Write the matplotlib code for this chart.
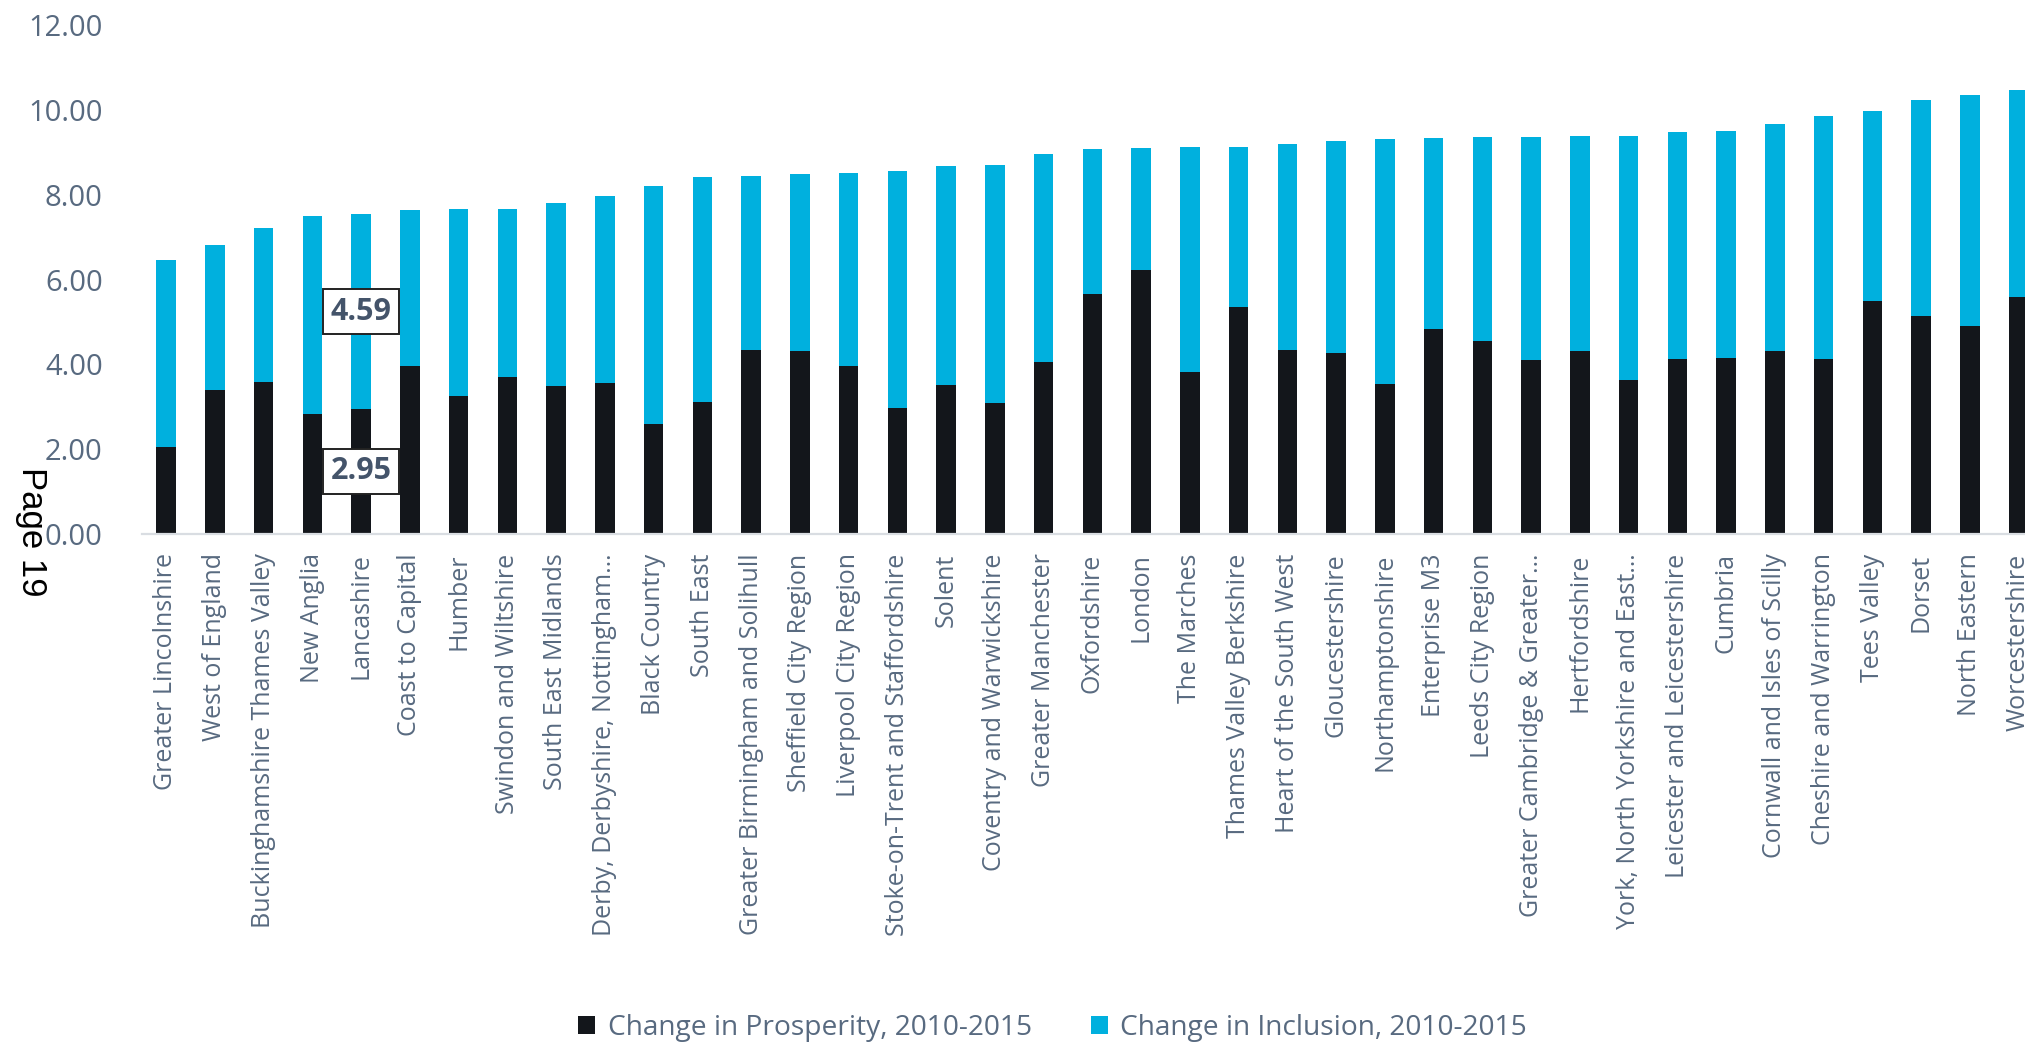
import matplotlib
matplotlib.use("Agg")
import matplotlib.pyplot as plt
from matplotlib.patches import Patch
from matplotlib import font_manager

plt.rcParams["font.family"] = ["Open Sans", "DejaVu Sans"]

regions = [
    "Greater Lincolnshire", "West of England", "Buckinghamshire Thames Valley",
    "New Anglia", "Lancashire", "Coast to Capital", "Humber",
    "Swindon and Wiltshire", "South East Midlands",
    "Derby, Derbyshire, Nottingham\u2026", "Black Country", "South East",
    "Greater Birmingham and Solihull", "Sheffield City Region",
    "Liverpool City Region", "Stoke-on-Trent and Staffordshire", "Solent",
    "Coventry and Warwickshire", "Greater Manchester", "Oxfordshire", "London",
    "The Marches", "Thames Valley Berkshire", "Heart of the South West",
    "Gloucestershire", "Northamptonshire", "Enterprise M3", "Leeds City Region",
    "Greater Cambridge & Greater\u2026", "Hertfordshire",
    "York, North Yorkshire and East\u2026", "Leicester and Leicestershire",
    "Cumbria", "Cornwall and Isles of Scilly", "Cheshire and Warrington",
    "Tees Valley", "Dorset", "North Eastern", "Worcestershire",
]

prosperity = [
    2.04, 3.39, 3.58, 2.83, 2.95, 3.97, 3.26, 3.71, 3.50, 3.55,
    2.60, 3.12, 4.34, 4.32, 3.95, 2.96, 3.52, 3.09, 4.06, 5.67,
    6.23, 3.81, 5.36, 4.35, 4.27, 3.54, 4.83, 4.54, 4.10, 4.32,
    3.63, 4.13, 4.15, 4.31, 4.13, 5.50, 5.14, 4.91, 5.58,
]

inclusion = [
    4.41, 3.42, 3.64, 4.66, 4.59, 3.67, 4.40, 3.95, 4.30, 4.41,
    5.60, 5.30, 4.10, 4.17, 4.55, 5.61, 5.16, 5.61, 4.89, 3.41,
    2.87, 5.31, 3.77, 4.85, 4.99, 5.78, 4.51, 4.82, 5.26, 5.07,
    5.76, 5.34, 5.34, 5.36, 5.72, 4.48, 5.10, 5.43, 4.88,
]

y_ticks = [0, 2, 4, 6, 8, 10, 12]
series_names = ["Change in Prosperity, 2010-2015", "Change in Inclusion, 2010-2015"]
labelled_region = "Lancashire"

DARK = "#13161b"
CYAN = "#00b0de"
TEXT = "#586a80"

W, H, DPI = 2025, 1043, 100
fig = plt.figure(figsize=(W / DPI, H / DPI), dpi=DPI)
step = 48.75  # pixel spacing between categories
ax = fig.add_axes([(166 - step / 2) / W, 0.488, (len(regions) * step) / W, 0.488])

x = list(range(len(regions)))
bw = 0.40
ax.bar(x, prosperity, width=bw, color=DARK, label=series_names[0], zorder=2)
ax.bar(x, inclusion, width=bw, bottom=prosperity, color=CYAN,
       label=series_names[1], zorder=2)

ax.set_xlim(-0.5, len(regions) - 0.5)
ax.set_ylim(0, 12)
ax.set_yticks(y_ticks)
ax.set_yticklabels([f"{v:.2f}" for v in y_ticks], fontsize=21, color=TEXT)
ax.set_xticks(x)
ax.set_xticklabels(regions, rotation=90, fontsize=18, color=TEXT,
                   ha="center", va="top")
ax.tick_params(axis="y", length=0, pad=28)
ax.tick_params(axis="x", length=0, pad=14)

for side in ["top", "right", "left"]:
    ax.spines[side].set_visible(False)
ax.spines["bottom"].set_color("#d9dde2")
ax.spines["bottom"].set_linewidth(1.6)

# boxed value labels on the highlighted region
i = regions.index(labelled_region)
box = dict(boxstyle="square,pad=0.24", facecolor="white",
           edgecolor="#222222", linewidth=1.4)
ax.text(i, prosperity[i] / 2, f"{prosperity[i]:.2f}", ha="center", va="center",
        fontsize=22, fontweight="bold", color="#44546a", bbox=box, zorder=4)
ax.text(i, prosperity[i] + inclusion[i] / 2, f"{inclusion[i]:.2f}", ha="center",
        va="center", fontsize=22, fontweight="bold", color="#44546a",
        bbox=box, zorder=4)

handles = [Patch(facecolor=DARK, label=series_names[0]),
           Patch(facecolor=CYAN, label=series_names[1])]
fig.legend(handles=handles, loc="center", bbox_to_anchor=(0.5198, 1 - 1028 / H),
           ncol=2, frameon=False, fontsize=20.25, labelcolor=TEXT,
           handlelength=0.6, handleheight=0.6, handletextpad=0.45,
           columnspacing=2.1, borderaxespad=0)

installed = {f.name for f in font_manager.fontManager.ttflist}
if "Liberation Sans Narrow" in installed:
    page_family, page_size = ["Liberation Sans Narrow", "DejaVu Sans"], 30
else:
    page_family, page_size = ["Liberation Sans", "DejaVu Sans"], 25
fig.text(31 / W, 1 - 532 / H, "Page 19", rotation=-90, ha="center", va="center",
         fontsize=page_size, color="black", family=page_family)

fig.savefig("out.png", dpi=DPI)
